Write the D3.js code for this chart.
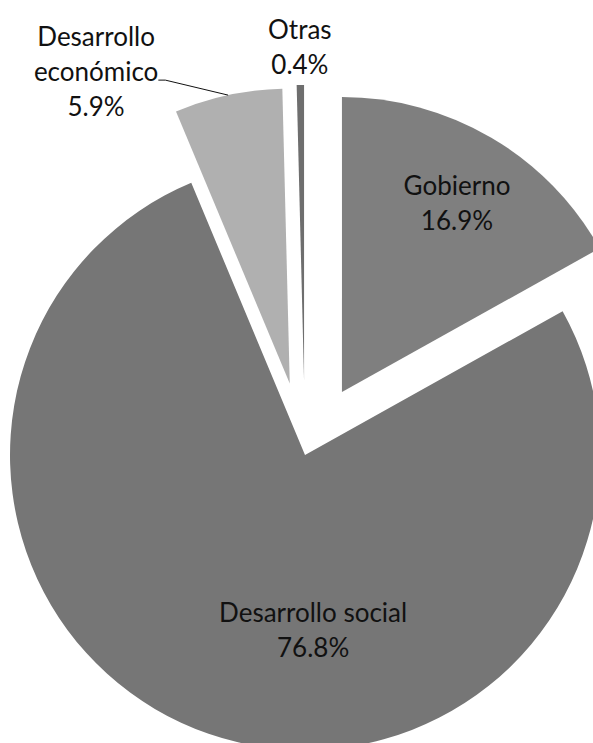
<!DOCTYPE html>
<html lang="es">
  <head>
    <meta charset="UTF-8" />
    <title>Gasto por finalidad</title>
    <style>
      html,
      body {
        margin: 0;
        padding: 0;
        background: #ffffff;
      }
      #my_dataviz {
        width: 593px;
        height: 743px;
        overflow: hidden;
      }
      text {
        font-family: Lato, "Open Sans", sans-serif;
        fill: #111111;
      }
    </style>
  </head>
  <body>
    <div id="my_dataviz"></div>
    <script src="https://cdn.jsdelivr.net/npm/d3@7"></script>
    <script>
      // data
      var categories = ["Gobierno", "Desarrollo social", "Desarrollo económico", "Otras"];
      var values = [16.9, 76.8, 5.9, 0.4];
      var labelLines = [["Gobierno"], ["Desarrollo social"], ["Desarrollo", "económico"], ["Otras"]];

      var width = 593;
      var height = 743;
      var radius = 295;
      var cx = 305;
      var cy = 455;

      var colors = d3
        .scaleOrdinal()
        .domain(categories)
        .range(["#7f7f7f", "#767676", "#b0b0b0", "#6e6e6e"]);

      // how far each slice is pulled out, and where its label sits
      var explode = { "Gobierno": 73, "Desarrollo social": 0, "Desarrollo económico": 73, "Otras": 75 };
      var labelSpot = {
        "Gobierno": { r: 0.77, dx: 0, dy: 6, inside: true },
        "Desarrollo social": { r: 0.59, dx: 65, dy: 10, inside: true },
        "Desarrollo económico": { r: 1.0, dx: -132, dy: -24, inside: false },
        "Otras": { r: 1.13, dx: 0, dy: 0, inside: false },
      };
      var lineGap = 35;

      var data = categories.map(function (c, i) {
        return { name: c, value: values[i], lines: labelLines[i] };
      });

      var svg = d3
        .select("#my_dataviz")
        .append("svg")
        .attr("width", width)
        .attr("height", height)
        .append("g")
        .attr("transform", "translate(" + cx + "," + cy + ")");

      var pie = d3
        .pie()
        .sort(null)
        .value(function (d) {
          return d.value;
        });

      var arc = d3.arc().innerRadius(0).outerRadius(radius);
      var arcs = pie(data);

      function shift(d) {
        var a = (d.startAngle + d.endAngle) / 2;
        var e = explode[d.data.name];
        return [Math.sin(a) * e, -Math.cos(a) * e];
      }

      var slices = svg
        .selectAll(".slice")
        .data(arcs)
        .enter()
        .append("g")
        .attr("class", "slice")
        .attr("transform", function (d) {
          var s = shift(d);
          return "translate(" + s[0] + "," + s[1] + ")";
        });

      slices
        .append("path")
        .attr("d", arc)
        .attr("fill", function (d) {
          return colors(d.data.name);
        });

      // labels: name lines plus the percentage
      slices.each(function (d) {
        var g = d3.select(this);
        var spot = labelSpot[d.data.name];
        var labelArc = d3
          .arc()
          .innerRadius(radius * spot.r)
          .outerRadius(radius * spot.r);
        var c = labelArc.centroid(d);
        var lx = c[0] + spot.dx;
        var ly = c[1] + spot.dy;
        var lines = d.data.lines.concat([d3.format(".1f")(d.data.value) + "%"]);
        var top = ly - ((lines.length - 1) * lineGap) / 2;

        var texts = g
          .selectAll(".lbl")
          .data(lines)
          .enter()
          .append("text")
          .attr("class", "lbl")
          .attr("x", lx)
          .attr("y", function (t, i) {
            return top + i * lineGap;
          })
          .attr("text-anchor", "middle")
          .attr("dominant-baseline", "central")
          .attr("font-size", 26)
          .text(function (t) {
            return t;
          });

        // leader line for the económico label
        if (d.data.name === "Desarrollo económico") {
          var edge = arc.centroid(d);
          var a = (d.startAngle + d.endAngle) / 2;
          var ex = Math.sin(a) * radius;
          var ey = -Math.cos(a) * radius;
          var box = texts.nodes()[1].getBBox();
          var knee = [box.x + box.width + 7, box.y + box.height - 7];
          g.append("polyline")
            .attr("points", [[box.x + box.width, knee[1]], knee, [ex, ey]].join(" "))
            .attr("fill", "none")
            .attr("stroke", "#111111")
            .attr("stroke-width", 1);
        }
      });
    </script>
  </body>
</html>
